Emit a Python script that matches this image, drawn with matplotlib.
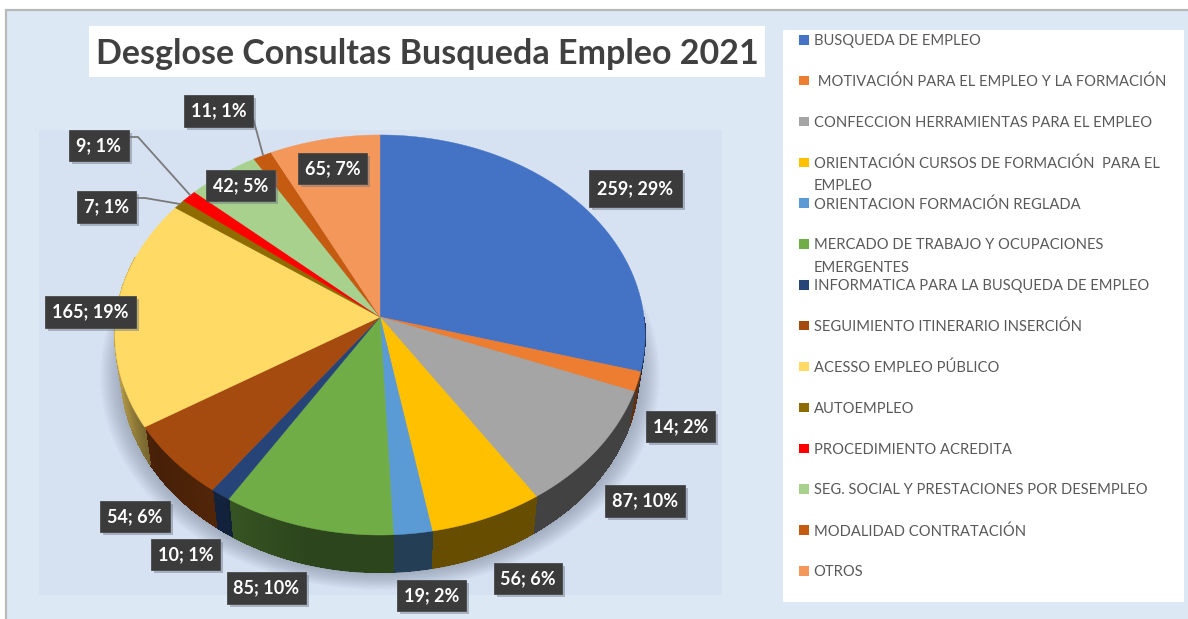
import numpy as np
import matplotlib
matplotlib.use("Agg")
import matplotlib.pyplot as plt
from matplotlib.patches import Polygon, Rectangle

categories = ["BUSQUEDA DE EMPLEO", " MOTIVACIÓN PARA EL EMPLEO Y LA FORMACIÓN",
              "CONFECCION HERRAMIENTAS PARA EL EMPLEO",
              "ORIENTACIÓN CURSOS DE FORMACIÓN  PARA EL\nEMPLEO", "ORIENTACION FORMACIÓN REGLADA",
              "MERCADO DE TRABAJO Y OCUPACIONES\nEMERGENTES", "INFORMATICA PARA LA BUSQUEDA DE EMPLEO",
              "SEGUIMIENTO ITINERARIO INSERCIÓN", "ACESSO EMPLEO PÚBLICO", "AUTOEMPLEO",
              "PROCEDIMIENTO ACREDITA", "SEG. SOCIAL Y PRESTACIONES POR DESEMPLEO",
              "MODALIDAD CONTRATACIÓN", "OTROS"]
values = [259, 14, 87, 56, 19, 85, 10, 54, 165, 7, 9, 42, 11, 65]
percents = [29, 2, 10, 6, 2, 10, 1, 6, 19, 1, 1, 5, 1, 7]
colors = ["#4472C4", "#ED7D31", "#A5A5A5", "#FFC000", "#5B9BD5", "#70AD47", "#264478",
          "#A54B10", "#FFDA65", "#8F6C00", "#FF0000", "#A9D18E", "#C55A11", "#F4975A"]
label_boxes = [(589, 170, 682, 207), (646, 411, 715, 442), (605, 485, 685, 517), (494, 563, 562, 594),
               (397, 580, 466, 611), (227, 572, 306, 604), (151, 539, 220, 570), (100, 501, 170, 532),
               (45, 296, 136, 328), (77, 191, 136, 223), (69, 130, 129, 161), (206, 170, 275, 201),
               (184, 95, 253, 127), (298, 153, 367, 184)]
leaders = [[(129, 137), (138, 137), (190, 195)], [(253, 118), (263, 155)], [(136, 198), (145, 198), (180, 204)]]

W, H = 1188, 619
fig = plt.figure(figsize=(W / 100, H / 100), dpi=100, facecolor="white")
ax = fig.add_axes([0, 0, 1, 1])
ax.set_xlim(0, W); ax.set_ylim(H, 0); ax.axis("off")

ax.add_patch(Rectangle((5.5, 9.5), W, H, fc="#DDE8F5", ec="#B9B9B9", lw=1.6, zorder=0))
plot_area = Rectangle((39, 130), 683, 465, fc="#D6E1F2", ec="none", zorder=1)
ax.add_patch(plot_area)

# perspective pie geometry
AX, AY, A, B, K = 380, 317, 264.0, 198.4, 0.09
DEPTH, SX = 38, 0.977

def top(theta):
    u, v = np.sin(theta), -np.cos(theta)
    d = 1 - K * v
    return AX + A * u / d, AY + B * v / d

def rim(theta, drop=DEPTH):
    x, y = top(theta)
    return AX + (x - AX) * SX, y + drop

def shade(theta):
    deg = np.degrees(theta) % 360
    return np.interp(deg, [90, 195, 215, 235, 250, 275, 360], [.40, .40, .50, .42, .62, .82, .82])

def dark(col, f):
    return tuple(c * f for c in matplotlib.colors.to_rgb(col))

# soft cast shadow
all_t = np.linspace(0, 2 * np.pi, 300)
rx, ry = rim(all_t)
n = 14
for i in range(n):
    grow = (n - i) / n
    xs = AX + (rx - AX) * (1.0 + 0.08 * grow)
    ys = (ry - 335) * (1 + 0.07 * grow) + 335
    p = Polygon(np.c_[xs, ys], fc="#56627A", ec="none", alpha=0.03, zorder=2)
    ax.add_patch(p)
    p.set_clip_path(plot_area)

edges = np.cumsum([0] + values) / sum(values) * 2 * np.pi

# side wall
for i, col in enumerate(colors):
    ts = np.arange(edges[i], edges[i + 1], np.radians(0.7))
    ts = np.append(ts, edges[i + 1])
    mids = (ts[:-1] + ts[1:]) / 2
    keep = (mids > np.pi * 0.5) & (mids < np.pi * 1.6)
    if not keep.any():
        continue
    tk = ts[:-1][keep].tolist() + [ts[1:][keep][-1]]
    tk = np.array(tk)
    base = np.r_[np.c_[top(tk)], np.c_[rim(tk)][::-1]]
    c0 = dark(col, shade(tk.mean()))
    ax.add_patch(Polygon(base, fc=c0, ec="none", zorder=3))
    for a, b in zip(tk[:-1], tk[1:]):
        c = dark(col, shade((a + b) / 2))
        ax.add_patch(Polygon([top(a), top(b), rim(b, DEPTH - 1), rim(a, DEPTH - 1)], fc=c, ec=c, lw=0.5,
                             antialiased=False, zorder=3.1))

# top face
for i, col in enumerate(colors):
    ts = np.linspace(edges[i], edges[i + 1], max(3, int(values[i]) + 2))
    x, y = top(ts)
    ax.add_patch(Polygon(np.r_[[[AX, AY]], np.c_[x, y]], fc=col, ec=col, lw=0.3, zorder=4))

# leader lines
for pts in leaders:
    xy = np.array(pts)
    ax.plot(xy[:, 0], xy[:, 1], color="#7A7A7A", lw=1.3, zorder=5, solid_capstyle="round")

# data labels
for (x0, y0, x1, y1), v, p in zip(label_boxes, values, percents):
    ax.add_patch(Rectangle((x0 + 3, y0 + 3), x1 - x0, y1 - y0, fc="#6A7384", ec="none", alpha=0.45, zorder=6))
    ax.add_patch(Rectangle((x0, y0), x1 - x0, y1 - y0, fc="#3B3B3B", ec="#4A4A4A", lw=0.6, zorder=7))
    ax.text((x0 + x1) / 2, (y0 + y1) / 2, f"{v}; {p}%", color="white", family="Lato", weight="bold",
            fontsize=13, ha="center", va="center", zorder=8)

# title
ax.add_patch(Rectangle((89, 26), 676, 51, fc="white", ec="none", zorder=2))
ax.text(427, 54, "Desglose Consultas Busqueda Empleo 2021", color="#404040", family="Lato", weight="bold",
        fontsize=24.5, ha="center", va="center", zorder=3)

# legend
ax.add_patch(Rectangle((783, 30), 401, 572, fc="white", ec="none", zorder=2))
for i, (cat, col) in enumerate(zip(categories, colors)):
    y = 40 + i * 40.85
    ax.add_patch(Rectangle((799, y - 5), 9.5, 9.5, fc=col, ec="none", zorder=3))
    ax.text(813.5, y - 6, cat, color="#595959", family="Lato", fontsize=10.65, ha="left", va="top",
            linespacing=1.75, zorder=3)

fig.savefig("out.png", dpi=100)
